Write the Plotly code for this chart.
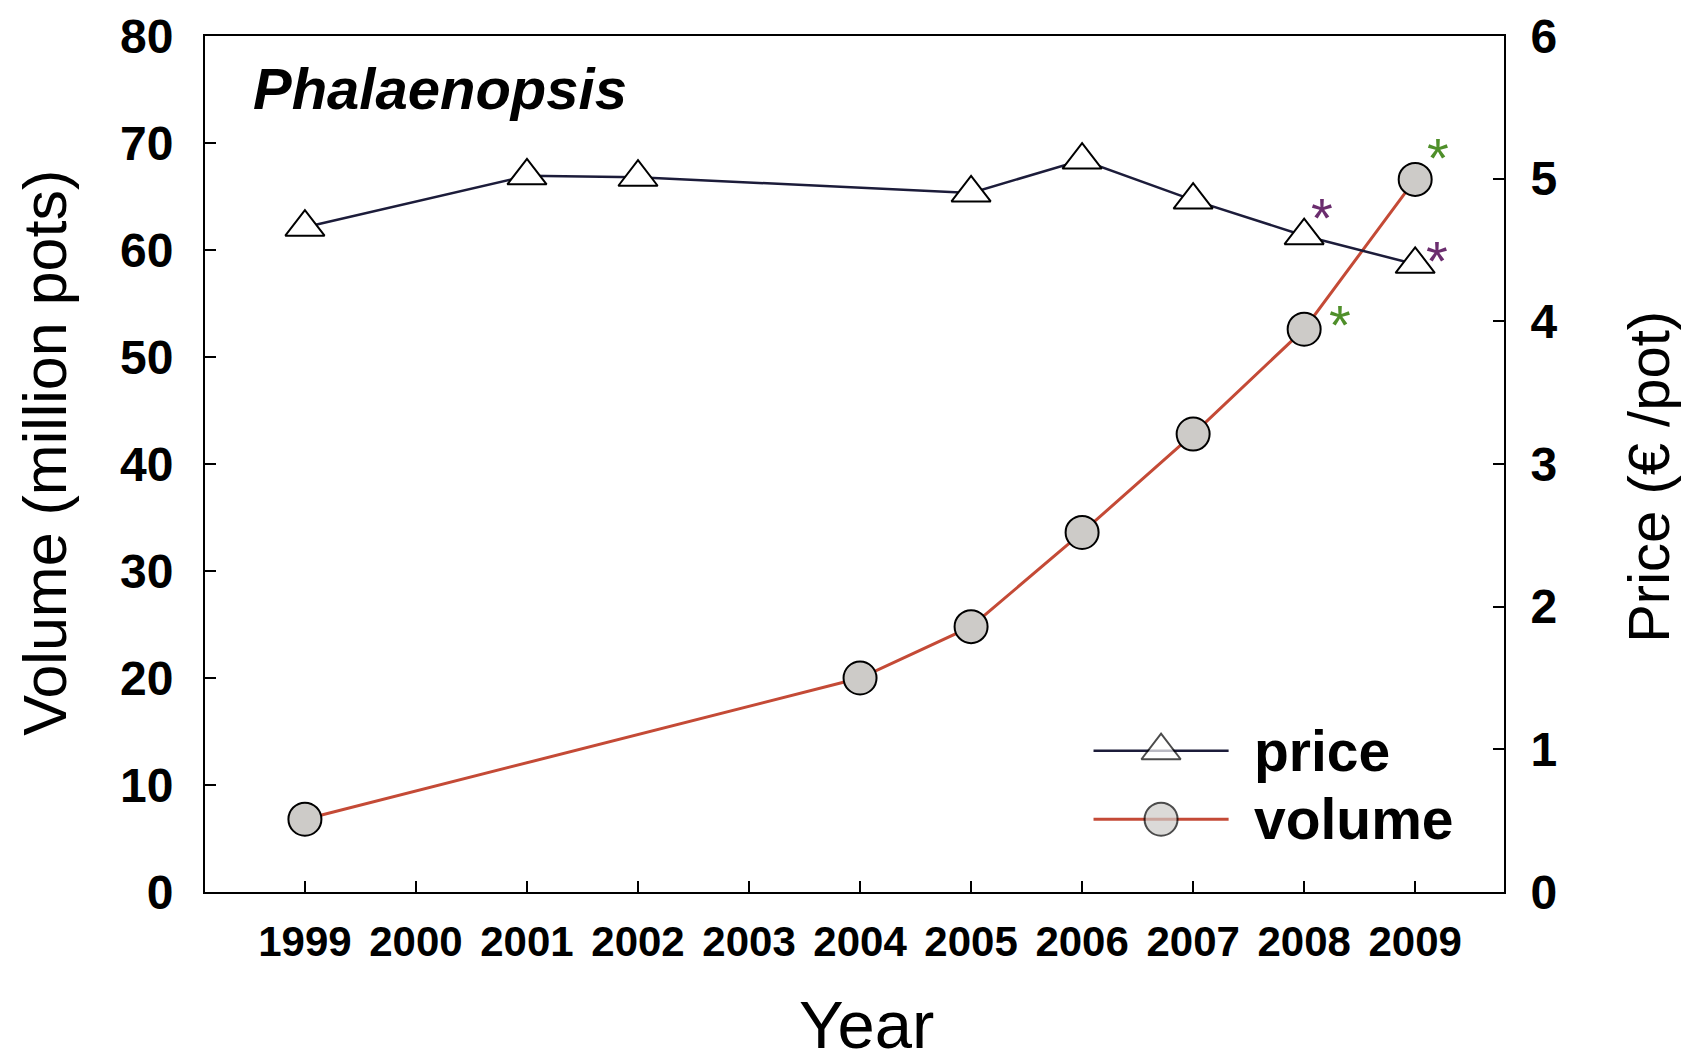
import plotly.graph_objects as go

# ---- data ----
price_years = [1999, 2001, 2002, 2005, 2006, 2007, 2008, 2009]
price_values = [4.66, 5.02, 5.01, 4.90, 5.13, 4.85, 4.60, 4.40]
volume_years = [1999, 2004, 2005, 2006, 2007, 2008, 2009]
volume_values = [6.8, 20.0, 24.8, 33.6, 42.8, 52.6, 66.6]
year_ticks = [1999, 2000, 2001, 2002, 2003, 2004, 2005, 2006, 2007, 2008, 2009]
volume_ticks = [0, 10, 20, 30, 40, 50, 60, 70, 80]
price_ticks = [0, 1, 2, 3, 4, 5, 6]
starred_price_years = [2008, 2009]
starred_volume_years = [2008, 2009]

# ---- style ----
FONT = "Liberation Sans, Arial, sans-serif"
PRICE_LINE = "#1c1c3a"
VOLUME_LINE = "#c44a36"
CIRCLE_FILL = "#cdcbc8"
PURPLE = "#6b2d6e"
GREEN = "#4f8f2a"
price_star_shifts = [(18, 18), (22, 4)]
volume_star_shifts = [(36, 5), (23, 22)]

fig = go.Figure()

fig.add_trace(go.Scatter(
    x=volume_years, y=volume_values, yaxis="y", mode="lines+markers",
    name="volume", showlegend=False,
    line=dict(color=VOLUME_LINE, width=3),
    marker=dict(symbol="circle", size=33, color=CIRCLE_FILL,
                line=dict(color="black", width=2)),
))
fig.add_trace(go.Scatter(
    x=price_years, y=price_values, yaxis="y2", mode="lines+markers",
    name="price", showlegend=False,
    line=dict(color=PRICE_LINE, width=2.5),
    marker=dict(symbol="triangle-up", size=34, color="white",
                line=dict(color="black", width=2)),
))

# legend keys drawn on an invisible overlay axis (0..1 in both directions)
leg_x = [0.684, 0.736, 0.788]
for yy, nm, lc, sym, fill, lw, ms in [
    (0.165, "price", PRICE_LINE, "triangle-up", "white", 2.5, 34),
    (0.085, "volume", VOLUME_LINE, "circle", CIRCLE_FILL, 3, 33),
]:
    fig.add_trace(go.Scatter(
        x=leg_x, y=[yy] * 3, xaxis="x3", yaxis="y3", mode="lines+markers",
        showlegend=False, hoverinfo="skip",
        line=dict(color=lc, width=lw),
        marker=dict(symbol=sym, size=[0, ms, 0], color=fill,
                    line=dict(color="black", width=[0, 2, 0])),
    ))
    fig.add_annotation(x=0.806, y=yy, xref="paper", yref="paper",
                       text=f"<b>{nm}</b>", showarrow=False, xanchor="left",
                       yanchor="middle", font=dict(family=FONT, size=57, color="black"))

# asterisks
for yr, (dx, dy) in zip(starred_price_years, price_star_shifts):
    v = price_values[price_years.index(yr)]
    fig.add_annotation(x=yr, y=v, xref="x", yref="y2", text="*", showarrow=False,
                       xshift=dx, yshift=dy, font=dict(family=FONT, size=56, color=PURPLE))
for yr, (dx, dy) in zip(starred_volume_years, volume_star_shifts):
    v = volume_values[volume_years.index(yr)]
    fig.add_annotation(x=yr, y=v, xref="x", yref="y", text="*", showarrow=False,
                       xshift=dx, yshift=dy, font=dict(family=FONT, size=56, color=GREEN))

fig.add_annotation(x=0.0354, y=0.939, xref="paper", yref="paper",
                   text="<b><i>Phalaenopsis</i></b>", showarrow=False,
                   xanchor="left", yanchor="middle",
                   font=dict(family=FONT, size=58, color="black"))

# axis titles
fig.add_annotation(x=0, y=0.513, xref="paper", yref="paper", xshift=-160,
                   text="Volume (million pots)", textangle=-90, showarrow=False,
                   xanchor="center", yanchor="middle",
                   font=dict(family=FONT, size=61, color="black"))
fig.add_annotation(x=1, y=0.485, xref="paper", yref="paper", xshift=145,
                   text="Price (€ /pot)", textangle=-90, showarrow=False,
                   xanchor="center", yanchor="middle",
                   font=dict(family=FONT, size=58, color="black"))
fig.add_annotation(x=0.509, y=0, xref="paper", yref="paper", yshift=-132,
                   text="Year", showarrow=False,
                   xanchor="center", yanchor="middle",
                   font=dict(family=FONT, size=67, color="black"))

# page body adds an 8px margin, so the figure is drawn 8px smaller
fig.update_layout(
    width=1682, height=1044,
    margin=dict(l=197, r=186, t=28, b=160),
    paper_bgcolor="white", plot_bgcolor="white",
    font=dict(family=FONT, color="black"),
    xaxis=dict(range=[1998.1, 2009.8], tickvals=year_ticks,
               ticktext=[f"<b>{y}</b>" for y in year_ticks],
               ticks="inside", ticklen=11, tickwidth=2, tickcolor="black",
               showline=True, linecolor="black", linewidth=2, mirror=True,
               showgrid=False, zeroline=False, automargin=False,
               tickfont=dict(family=FONT, size=42),
               ticklabelstandoff=12),
    yaxis=dict(range=[0, 80], tickvals=volume_ticks,
               ticktext=[f"<b>{v}</b>" for v in volume_ticks],
               ticks="inside", ticklen=11, tickwidth=2, tickcolor="black",
               showline=True, linecolor="black", linewidth=2,
               showgrid=False, zeroline=False, automargin=False,
               tickfont=dict(family=FONT, size=48),
               ticklabelstandoff=20),
    yaxis2=dict(range=[0, 6], tickvals=price_ticks,
                ticktext=[f"<b>{v}</b>" for v in price_ticks],
                overlaying="y", side="right",
                ticks="inside", ticklen=11, tickwidth=2, tickcolor="black",
                showline=True, linecolor="black", linewidth=2,
                showgrid=False, zeroline=False, automargin=False,
                tickfont=dict(family=FONT, size=48),
                ticklabelstandoff=15),
    xaxis3=dict(range=[0, 1], overlaying="x", visible=False, fixedrange=True),
    yaxis3=dict(range=[0, 1], overlaying="y", visible=False, fixedrange=True),
)

fig.write_html("out.html")
